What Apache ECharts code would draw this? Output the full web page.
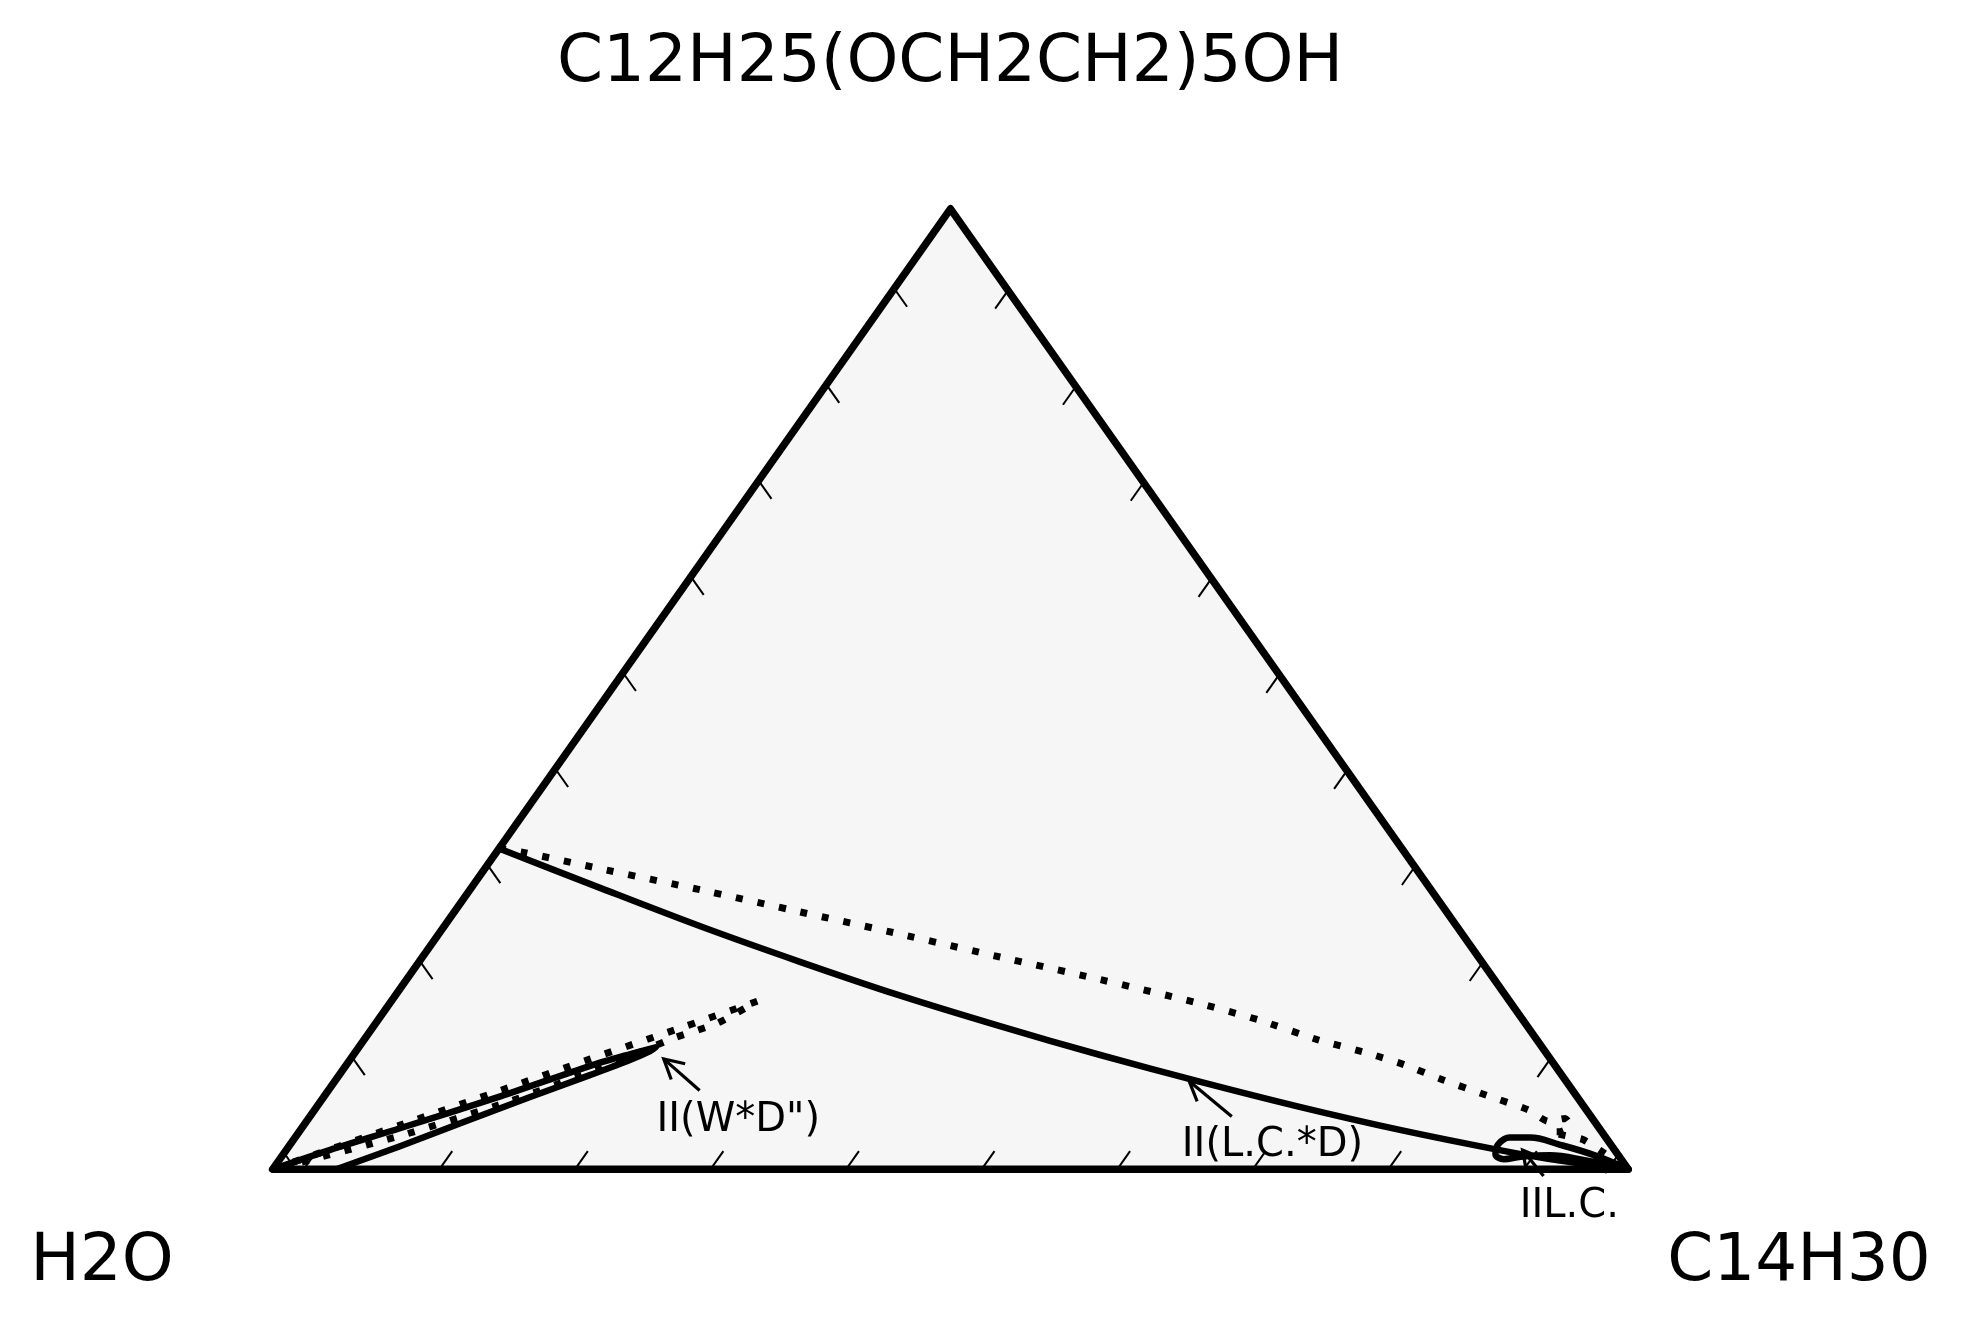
<!DOCTYPE html>
<html><head><meta charset="utf-8">
<script src="https://cdn.jsdelivr.net/npm/echarts/dist/echarts.min.js"></script>
<style>html,body{margin:0;padding:0;background:#fff}#c{width:1961px;height:1325px}</style>
</head><body><div id="c"></div>
<script>
// Ternary data: values are [C14H30 %, C12H25(OCH2CH2)5OH %]; H2O = remainder
const vertexLabels = ['C12H25(OCH2CH2)5OH', 'H2O', 'C14H30'];
const vertexOil = [0, 100, 0];
const vertexSurf = [0, 0, 100];

const solidOil  = [0, 9.5, 18.9, 28.1, 37.2, 46.2, 55.1, 63.9, 72.5, 81.1, 89.5, 94.5, 100];
const solidSurf = [33.4, 29.3, 25.3, 21.6, 18.1, 14.9, 11.9, 9.1, 6.5, 4.1, 2.0, 0.9, 0];

const dottedOil  = [0, 2.0, 8.5, 17.0, 25.5, 34.0, 42.6, 50.3, 59.3, 65.1, 70.3, 74.7, 78.0, 81.7, 85.7, 89.5, 91.6, 92.7, 93.5, 93.0, 92.3, 93.6, 95.1, 97.2, 100];
const dottedSurf = [33.4, 33.0, 31.3, 29.1, 26.8, 24.5, 22.1, 20.0, 17.4, 15.5, 13.5, 12.1, 10.9, 9.3, 7.7, 6.2, 5.0, 5.3, 4.5, 3.9, 3.9, 3.5, 3.1, 1.8, 0];

const loopOil  = [100, 96.8, 93.7, 91.1, 89.6, 89.1, 89.4, 90.3, 91.4, 93.5, 96.3, 100];
const loopSurf = [0, 1.45, 2.55, 3.3, 3.3, 2.6, 1.6, 1.05, 1.3, 1.45, 0.95, 0];

const lobeOil  = [0, 3.2, 7.3, 13.0, 18.0, 20.4, 21.9, 21.7, 20.7, 18.5, 15.2, 11.6, 8.2, 4.7];
const lobeSurf = [0, 2.0, 4.3, 7.6, 10.75, 12.0, 12.7, 12.3, 11.4, 9.8, 7.5, 4.9, 2.4, 0];

const dotLobeOil  = [0, 7.1, 12.7, 17.7, 22.4, 27.0, 25.2, 22.8, 21.0, 18.3, 14.0, 7.7, 1.1];
const dotLobeSurf = [0, 4.6, 8.2, 11.5, 14.5, 17.5, 15.2, 13.7, 12.2, 10.1, 7.1, 3.5, 0.45];

const annText     = ['II(W*D")', 'II(L.C.*D)', 'IIL.C.'];
const annHeadOil  = [23.1, 63.0, 91.2];
const annHeadSurf = [11.5, 9.2, 2.0];
const annTailOil  = [27.4, 68.0, 94.1];
const annTailSurf = [8.2, 5.5, -0.7];
const annTextOil  = [31.8, 72.5, 97.6];
const annTextSurf = [5.1, 2.5, -3.9];

const tickBottomOil = [2.3, 12.3, 22.3, 32.3, 42.3, 52.3, 62.3, 72.3, 82.3, 92.3];
const tickLeftSurf  = [1.7, 11.7, 21.7, 31.7, 41.7, 51.7, 61.7, 71.7, 81.7, 91.7];
const tickRightSurf = [1.5, 11.5, 21.5, 31.5, 41.5, 51.5, 61.5, 71.5, 81.5, 91.5];
const TICK_LEN = 1.9;

function toXY(oil, surf) { return [(oil + surf / 2) / 100, surf / 100]; }
function curve(oils, surfs) { return oils.map((o, i) => toXY(o, surfs[i])); }

// tick rows: [oil, surf, dOil, dSurf]
const tickRows = []
  .concat(tickBottomOil.map(b => [b, 0, 0, TICK_LEN]))
  .concat(tickLeftSurf.map(s => [0, s, TICK_LEN, -TICK_LEN]))
  .concat(tickRightSurf.map(s => [100 - s, s, 0, -TICK_LEN]));

const annRows = annText.map((t, i) => [annHeadOil[i], annHeadSurf[i], annTailOil[i], annTailSurf[i], annTextOil[i], annTextSurf[i], i]);

const chart = echarts.init(document.getElementById('c'), null, {renderer: 'canvas'});

function trianglePts(api) {
  return vertexOil.map((o, i) => api.coord(toXY(o, vertexSurf[i])));
}

const lineBase = { type: 'line', showSymbol: false, symbol: 'none', clip: false, silent: true, animation: false };
const labelFont = '66px "DejaVu Sans"';

const option = {
  animation: false,
  backgroundColor: '#ffffff',
  grid: { left: 272.6, top: 208.8, width: 1355.7, height: 960.5 },
  xAxis: { type: 'value', min: 0, max: 1, show: false },
  yAxis: { type: 'value', min: 0, max: 1, show: false },
  graphic: [
    { type: 'text', x: 950, y: 64, style: { text: vertexLabels[0], font: labelFont, fill: '#000', align: 'center', verticalAlign: 'middle' } },
    { type: 'text', x: 102, y: 1263, style: { text: vertexLabels[1], font: labelFont, fill: '#000', align: 'center', verticalAlign: 'middle' } },
    { type: 'text', x: 1799, y: 1263, style: { text: vertexLabels[2], font: labelFont, fill: '#000', align: 'center', verticalAlign: 'middle' } }
  ],
  series: [
    { type: 'custom', z: 1, silent: true, data: [[0, 0]],
      renderItem: (params, api) => ({ type: 'polygon', shape: { points: trianglePts(api) }, style: { fill: '#f6f6f6', stroke: 'none' } }) },
    { type: 'custom', z: 2, silent: true, data: tickRows,
      renderItem: (params, api) => {
        const o = api.value(0), s = api.value(1), dO = api.value(2), dS = api.value(3);
        const p1 = api.coord(toXY(o, s)), p2 = api.coord(toXY(o + dO, s + dS));
        return { type: 'line', shape: { x1: p1[0], y1: p1[1], x2: p2[0], y2: p2[1] }, style: { stroke: '#000', lineWidth: 2 } };
      } },
    Object.assign({}, lineBase, { z: 3, data: curve(dottedOil, dottedSurf), smooth: 0.2,
      lineStyle: { color: '#000', width: 7, type: [7, 15], cap: 'butt' } }),
    Object.assign({}, lineBase, { z: 3, data: curve(dotLobeOil, dotLobeSurf), smooth: 0.2,
      lineStyle: { color: '#000', width: 7, type: [7, 15], cap: 'butt' } }),
    Object.assign({}, lineBase, { z: 4, data: curve(solidOil, solidSurf), smooth: 0.3,
      lineStyle: { color: '#000', width: 6.5, type: 'solid', cap: 'round', join: 'round' } }),
    Object.assign({}, lineBase, { z: 4, data: curve(lobeOil, lobeSurf), smooth: 0.3,
      lineStyle: { color: '#000', width: 6.5, type: 'solid', cap: 'round', join: 'round' } }),
    Object.assign({}, lineBase, { z: 4, data: curve(loopOil, loopSurf), smooth: 0.4,
      lineStyle: { color: '#000', width: 6.5, type: 'solid', cap: 'round', join: 'round' } }),
    { type: 'custom', z: 5, silent: true, data: [[0, 0]],
      renderItem: (params, api) => ({ type: 'polygon', shape: { points: trianglePts(api) }, style: { fill: 'none', stroke: '#000', lineWidth: 7.5, lineJoin: 'round' } }) },
    { type: 'custom', z: 6, silent: true, data: annRows,
      renderItem: (params, api) => {
        const h = api.coord(toXY(api.value(0), api.value(1)));
        const t = api.coord(toXY(api.value(2), api.value(3)));
        const c = api.coord(toXY(api.value(4), api.value(5)));
        const ang = Math.atan2(t[1] - h[1], t[0] - h[0]);
        const L = 22, a = 0.5;
        const a1 = [h[0] + L * Math.cos(ang + a), h[1] + L * Math.sin(ang + a)];
        const a2 = [h[0] + L * Math.cos(ang - a), h[1] + L * Math.sin(ang - a)];
        const st = { stroke: '#000', lineWidth: 3.2, fill: 'none', lineCap: 'butt', lineJoin: 'miter' };
        return { type: 'group', children: [
          { type: 'line', shape: { x1: t[0], y1: t[1], x2: h[0], y2: h[1] }, style: st },
          { type: 'polyline', shape: { points: [a1, h, a2] }, style: st },
          { type: 'text', style: { text: annText[api.value(6)], x: c[0], y: c[1], font: '40px "DejaVu Sans"', fill: '#000', align: 'center', verticalAlign: 'middle' } }
        ] };
      } }
  ]
};
chart.setOption(option);
</script></body></html>
